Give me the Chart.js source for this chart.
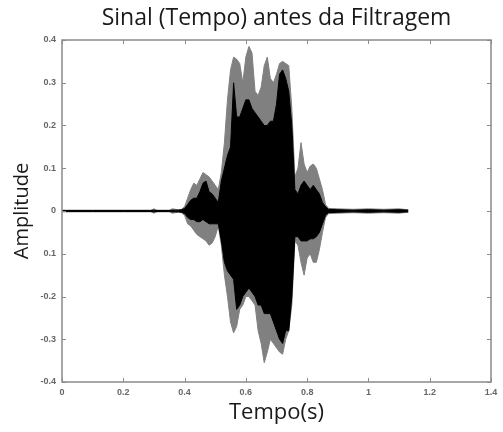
<!DOCTYPE html>
<html lang="pt">
<head>
    <meta charset="UTF-8">
    <title>Sinal (Tempo) antes da Filtragem</title>
    <script src="https://cdn.jsdelivr.net/npm/chart.js"></script>
    <style>
        html, body { margin: 0; padding: 0; background: #fff; }
        #wrap { width: 503px; height: 432px; }
    </style>
</head>
<body>
    <div id="wrap"><canvas id="sinal" width="503" height="432"></canvas></div>
    <script>
        // time samples (s)
        const times = [0, 0.1, 0.2, 0.29, 0.30, 0.31, 0.35, 0.36, 0.37, 0.38, 0.39,
            0.40, 0.41, 0.42, 0.43, 0.44, 0.45, 0.46, 0.47, 0.48, 0.49,
            0.50, 0.51, 0.52, 0.53, 0.54, 0.55, 0.56, 0.57, 0.58, 0.59,
            0.60, 0.61, 0.62, 0.63, 0.64, 0.65, 0.66, 0.67, 0.68, 0.69,
            0.70, 0.71, 0.72, 0.73, 0.74, 0.75, 0.76, 0.77, 0.78, 0.79,
            0.80, 0.81, 0.82, 0.83, 0.84, 0.85, 0.86, 0.87,
            0.90, 0.95, 1.00, 1.05, 1.10, 1.13];

        // outer (grey) envelope of the waveform
        const outerTop = [0.002, 0.002, 0.002, 0.002, 0.005, 0.002, 0.002, 0.005, 0.004, 0.003, 0.004,
            0.01, 0.03, 0.05, 0.065, 0.06, 0.075, 0.09, 0.085, 0.08, 0.07,
            0.06, 0.05, 0.09, 0.16, 0.26, 0.33, 0.36, 0.355, 0.345, 0.30,
            0.36, 0.385, 0.37, 0.28, 0.27, 0.29, 0.34, 0.36, 0.31, 0.30,
            0.32, 0.345, 0.35, 0.345, 0.34, 0.24, 0.08, 0.10, 0.16, 0.11,
            0.09, 0.105, 0.11, 0.10, 0.075, 0.05, 0.015, 0.006,
            0.005, 0.004, 0.005, 0.004, 0.005, 0.003];
        const outerBottom = [-0.002, -0.002, -0.002, -0.002, -0.005, -0.002, -0.002, -0.005, -0.004, -0.003, -0.004,
            -0.01, -0.03, -0.035, -0.045, -0.055, -0.06, -0.065, -0.07, -0.08, -0.075,
            -0.06, -0.035, -0.08, -0.15, -0.2, -0.26, -0.285, -0.27, -0.23, -0.22,
            -0.2, -0.2, -0.21, -0.22, -0.28, -0.31, -0.355, -0.33, -0.30, -0.31,
            -0.32, -0.33, -0.335, -0.30, -0.28, -0.22, -0.07, -0.08, -0.12, -0.15,
            -0.11, -0.1, -0.12, -0.12, -0.09, -0.05, -0.015, -0.006,
            -0.005, -0.004, -0.005, -0.004, -0.005, -0.003];

        // dense (black) core of the waveform
        const coreTop = [0.001, 0.001, 0.001, 0.001, 0.002, 0.001, 0.001, 0.002, 0.002, 0.002, 0.003,
            0.006, 0.015, 0.025, 0.03, 0.03, 0.045, 0.065, 0.07, 0.045, 0.04,
            0.03, 0.02, 0.07, 0.10, 0.13, 0.15, 0.30, 0.22, 0.22, 0.24,
            0.26, 0.26, 0.24, 0.23, 0.22, 0.21, 0.20, 0.20, 0.21, 0.21,
            0.25, 0.32, 0.33, 0.31, 0.28, 0.20, 0.05, 0.04, 0.06, 0.07,
            0.06, 0.05, 0.06, 0.05, 0.04, 0.02, 0.01, 0.004,
            0.003, 0.002, 0.003, 0.002, 0.003, 0.002];
        const coreBottom = [-0.001, -0.001, -0.001, -0.001, -0.002, -0.001, -0.001, -0.002, -0.002, -0.002, -0.003,
            -0.006, -0.015, -0.02, -0.02, -0.025, -0.025, -0.02, -0.025, -0.03, -0.03,
            -0.03, -0.03, -0.07, -0.12, -0.14, -0.15, -0.16, -0.23, -0.22, -0.20,
            -0.19, -0.18, -0.19, -0.2, -0.22, -0.22, -0.24, -0.24, -0.24, -0.26,
            -0.28, -0.30, -0.31, -0.28, -0.28, -0.2, -0.06, -0.06, -0.07, -0.07,
            -0.07, -0.065, -0.065, -0.06, -0.05, -0.03, -0.01, -0.004,
            -0.003, -0.002, -0.003, -0.002, -0.003, -0.002];

        // tick labels as printed on the original figure (bottom to top)
        const xTickLabels = ['0', '0.2', '0.4', '0.6', '0.8', '1', '1.2', '1.4'];
        const yTickLabels = ['-0.4', '-0.3', '-0.2', '0.1', '0', '0.1', '0.2', '0.3', '0.4'];

        function series(values) {
            return times.map((t, i) => ({ x: t, y: values[i] }));
        }

        function envelope(values, color, order) {
            return {
                data: series(values),
                borderColor: color,
                backgroundColor: color,
                borderWidth: 1,
                pointRadius: 0,
                tension: 0,
                fill: 'origin',
                order: order
            };
        }

        // box round the plot with inward ticks, like the original
        const frame = {
            id: 'frame',
            afterDatasetsDraw(chart) {
                const ctx = chart.ctx;
                const a = chart.chartArea;
                const xs = chart.scales.x;
                const ys = chart.scales.y;
                ctx.save();
                ctx.strokeStyle = '#8a8a8a';
                ctx.lineWidth = 1.5;
                ctx.strokeRect(a.left, a.top, a.right - a.left, a.bottom - a.top);
                ctx.lineWidth = 1;
                ctx.beginPath();
                xs.ticks.forEach(tk => {
                    const px = Math.round(xs.getPixelForValue(tk.value)) + 0.5;
                    ctx.moveTo(px, a.bottom); ctx.lineTo(px, a.bottom - 4);
                    ctx.moveTo(px, a.top); ctx.lineTo(px, a.top + 4);
                });
                ys.ticks.forEach(tk => {
                    const py = Math.round(ys.getPixelForValue(tk.value)) + 0.5;
                    ctx.moveTo(a.left, py); ctx.lineTo(a.left + 4, py);
                    ctx.moveTo(a.right, py); ctx.lineTo(a.right - 4, py);
                });
                ctx.stroke();
                ctx.restore();
            }
        };

        const tickFont = { family: 'Liberation Sans', size: 9, weight: 'bold' };

        new Chart(document.getElementById('sinal'), {
            type: 'line',
            data: {
                datasets: [
                    envelope(outerTop, '#808080', 2),
                    envelope(outerBottom, '#808080', 2),
                    envelope(coreTop, '#000000', 1),
                    envelope(coreBottom, '#000000', 1)
                ]
            },
            options: {
                responsive: false,
                animation: false,
                layout: { padding: { left: 0, right: 12, top: 0, bottom: 0 } },
                plugins: {
                    legend: { display: false },
                    tooltip: { enabled: false },
                    title: {
                        display: true,
                        fullSize: false,
                        text: 'Sinal (Tempo) antes da Filtragem',
                        color: '#1a1a1a',
                        font: { family: 'Open Sans', size: 23, weight: 'normal', lineHeight: 1.2 },
                        padding: { top: 5, bottom: 7.4 }
                    }
                },
                scales: {
                    x: {
                        type: 'linear',
                        min: 0,
                        max: 1.4,
                        grid: { display: false, drawTicks: false },
                        border: { display: false },
                        ticks: {
                            stepSize: 0.2,
                            padding: 5,
                            color: '#666',
                            font: tickFont,
                            maxRotation: 0,
                            callback: (v) => xTickLabels[Math.round(v / 0.2)]
                        },
                        title: {
                            display: true,
                            text: 'Tempo(s)',
                            color: '#1a1a1a',
                            font: { family: 'Open Sans', size: 22, lineHeight: 1.2 },
                            padding: { top: 0, bottom: 6 }
                        },
                        afterFit: (s) => { s.height = 50; }
                    },
                    y: {
                        min: -0.4,
                        max: 0.4,
                        grid: { display: false, drawTicks: false },
                        border: { display: false },
                        ticks: {
                            stepSize: 0.1,
                            padding: 6,
                            color: '#666',
                            font: tickFont,
                            callback: (v) => yTickLabels[Math.round((v + 0.4) / 0.1)]
                        },
                        title: {
                            display: true,
                            text: 'Amplitude',
                            color: '#1a1a1a',
                            font: { family: 'Open Sans', size: 20, lineHeight: 1.2 },
                            padding: { top: 10, bottom: 0 }
                        },
                        afterFit: (s) => { s.width = 62; }
                    }
                }
            },
            plugins: [frame]
        });
    </script>
</body>
</html>
